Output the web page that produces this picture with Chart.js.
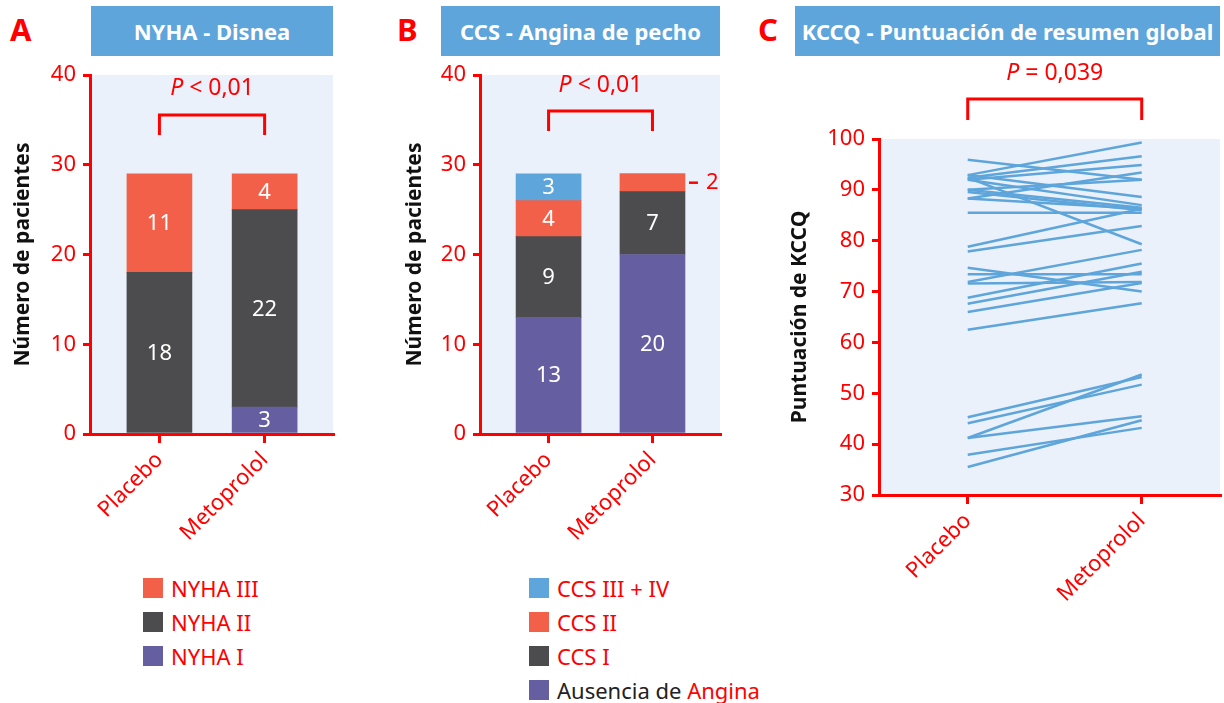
<!DOCTYPE html>
<html>
<head>
<meta charset="utf-8">
<script src="https://cdn.jsdelivr.net/npm/chart.js@4.4.0/dist/chart.umd.min.js"></script>
<style>
  body { margin: 0; width: 1224px; height: 703px; position: relative; background: #fff; overflow: hidden;
         font-family: "Noto Sans", sans-serif; }
  canvas { position: absolute; }
  .letter { position: absolute; top: 8px; color: #f00; font-weight: bold; font-size: 31px; }
  .box { position: absolute; top: 6px; height: 50px; background: #5DA5DA; color: #fff; font-weight: bold;
         font-size: 22px; display: flex; align-items: center; justify-content: center; white-space: nowrap; }
  .leg { position: absolute; top: 571px; font-size: 22px; color: #f00; }
  .leg div { height: 34px; display: flex; align-items: center; white-space: nowrap; }
  .sw { width: 20px; height: 20px; margin-right: 8px; display: inline-block; }
</style>
</head>
<body>
<div class="letter" style="left:10px">A</div>
<div class="box" style="left:91px;width:242px">NYHA - Disnea</div>
<div class="letter" style="left:397px">B</div>
<div class="box" style="left:441px;width:279px">CCS - Angina de pecho</div>
<div class="letter" style="left:758px">C</div>
<div class="box" style="left:795px;width:425px">KCCQ - Puntuación de resumen global</div>

<canvas id="chartA" width="345" height="560" style="left:0;top:0"></canvas>
<canvas id="chartB" width="330" height="560" style="left:400px;top:0"></canvas>
<canvas id="chartC" width="454" height="640" style="left:770px;top:0"></canvas>

<div class="leg" style="left:143px">
  <div><span class="sw" style="background:#F2604A"></span>NYHA III</div>
  <div><span class="sw" style="background:#4C4C4E"></span>NYHA II</div>
  <div><span class="sw" style="background:#655FA1"></span>NYHA I</div>
</div>
<div class="leg" style="left:529px">
  <div><span class="sw" style="background:#5DA5DA"></span>CCS III + IV</div>
  <div><span class="sw" style="background:#F2604A"></span>CCS II</div>
  <div><span class="sw" style="background:#4C4C4E"></span>CCS I</div>
  <div><span class="sw" style="background:#655FA1"></span><span style="color:#222">Ausencia de&nbsp;</span>Angina</div>
</div>

<script>
// Data
const groups = ["Placebo", "Metoprolol"];
const nyhaI = [0, 3];
const nyhaII = [18, 22];
const nyhaIII = [11, 4];
const sinAngina = [13, 20];
const ccsI = [9, 7];
const ccsII = [4, 2];
const ccsIIIIV = [3, 0];
// KCCQ per patient: placebo -> metoprolol
const kccqPlacebo = [92.9, 92.4, 95.9, 92.0, 90.0, 92.9, 92.4, 92.0, 90.0, 89.6, 88.3, 88.3, 85.5, 78.8, 77.9,
  74.7, 73.4, 71.9, 71.6, 68.8, 67.6, 66.0, 62.5, 45.3, 44.1, 41.2, 41.2, 37.9, 35.5];
const kccqMetoprolol = [99.3, 96.6, 92.0, 94.9, 92.0, 88.6, 79.3, 87.0, 86.5, 86.0, 93.4, 86.3, 85.5, 86.3, 82.9,
  70.0, 73.4, 78.2, 71.9, 75.5, 73.9, 71.7, 67.7, 53.2, 51.7, 53.7, 45.5, 43.2, 44.7];

const RED = "#f00";
const BG = "#EAF1FA";
const PURPLE = "#655FA1", DARK = "#4C4C4E", ORANGE = "#F2604A", BLUE = "#5DA5DA";

Chart.defaults.font.family = "'Noto Sans', sans-serif";

// light plot background
const plotBg = {
  id: "plotBg",
  beforeDraw(chart) {
    const { ctx, chartArea: a } = chart;
    ctx.save();
    ctx.fillStyle = BG;
    ctx.fillRect(a.left, a.top, a.right - a.left, a.bottom - a.top);
    ctx.restore();
  }
};

// numbers inside the bars
const barLabels = {
  id: "barLabels",
  afterDatasetsDraw(chart) {
    const ctx = chart.ctx;
    ctx.save();
    ctx.font = "22px 'Noto Sans'";
    ctx.textBaseline = "middle";
    chart.data.datasets.forEach((ds, di) => {
      chart.getDatasetMeta(di).data.forEach((bar, i) => {
        const v = ds.data[i].y;
        if (!v) return;
        const mid = (bar.y + bar.base) / 2;
        if (v < 3) {
          // too thin, put it outside with a dash
          const x0 = bar.x + bar.width / 2 + 4;
          ctx.strokeStyle = RED; ctx.lineWidth = 2.5;
          ctx.beginPath(); ctx.moveTo(x0, mid); ctx.lineTo(x0 + 9, mid); ctx.stroke();
          ctx.fillStyle = RED; ctx.textAlign = "left";
          ctx.fillText(v, x0 + 17, mid);
        } else {
          ctx.fillStyle = "#fff"; ctx.textAlign = "center";
          ctx.fillText(v, bar.x, mid + 1);
        }
      });
    });
    ctx.restore();
  }
};

// P value bracket
const bracket = {
  id: "bracket",
  afterDraw(chart, args, o) {
    const ctx = chart.ctx, sx = chart.scales.x;
    const x0 = sx.getPixelForValue(0), x1 = sx.getPixelForValue(1);
    ctx.save();
    ctx.strokeStyle = RED; ctx.lineWidth = 3;
    ctx.beginPath();
    ctx.moveTo(x0, o.y + o.leg); ctx.lineTo(x0, o.y); ctx.lineTo(x1, o.y); ctx.lineTo(x1, o.y + o.leg);
    ctx.stroke();
    ctx.fillStyle = RED; ctx.textBaseline = "middle"; ctx.textAlign = "left";
    ctx.font = "italic 23px 'Noto Sans'";
    const pw = ctx.measureText("P").width;
    ctx.font = "23px 'Noto Sans'";
    const rw = ctx.measureText(o.text).width;
    const start = (x0 + x1) / 2 - (pw + rw) / 2;
    ctx.font = "italic 23px 'Noto Sans'";
    ctx.fillText("P", start, o.ty);
    ctx.font = "23px 'Noto Sans'";
    ctx.fillText(o.text, start + pw, o.ty);
    ctx.restore();
  }
};

function xScale(min, max, height) {
  return {
    type: "linear", min: min, max: max, stacked: true, offset: false,
    afterBuildTicks: (s) => { s.ticks = groups.map((g, i) => ({ value: i })); },
    afterFit: (s) => { s.height = height; },
    ticks: { color: RED, font: { size: 22 }, minRotation: 45, maxRotation: 45, padding: 4,
             callback: (v) => groups[v] },
    grid: { drawOnChartArea: false, offset: false, color: RED, lineWidth: 3, tickLength: 9 },
    border: { color: RED, width: 3 }
  };
}

function yScale(min, max, width, title, titlePad) {
  return {
    min: min, max: max, stacked: true,
    afterFit: (s) => { s.width = width; },
    ticks: { stepSize: 10, color: RED, font: { size: 22 }, padding: 7 },
    grid: { drawOnChartArea: false, color: RED, lineWidth: 3, tickLength: 7 },
    border: { color: RED, width: 3 },
    title: { display: true, text: title, color: "#111", font: { size: 21, weight: "bold" },
             padding: { top: titlePad, bottom: 0 } }
  };
}

function barSet(label, values, color) {
  return { label: label, data: values.map((v, i) => ({ x: i, y: v })), backgroundColor: color,
           barThickness: 65, borderWidth: 0 };
}

// A - NYHA
new Chart(document.getElementById("chartA"), {
  type: "bar",
  data: { datasets: [barSet("NYHA I", nyhaI, PURPLE), barSet("NYHA II", nyhaII, DARK), barSet("NYHA III", nyhaIII, ORANGE)] },
  options: {
    responsive: false, animation: false,
    layout: { padding: { top: 75, right: 12, left: 0, bottom: 0 } },
    scales: { x: xScale(-0.66, 1.65, 126), y: yScale(0, 40, 90, "Número de pacientes", 10) },
    plugins: { legend: { display: false }, tooltip: { enabled: false },
               bracket: { text: " < 0,01", y: 115, leg: 20, ty: 88 } }
  },
  plugins: [plotBg, barLabels, bracket]
});

// B - CCS
new Chart(document.getElementById("chartB"), {
  type: "bar",
  data: { datasets: [barSet("Ausencia de Angina", sinAngina, PURPLE), barSet("CCS I", ccsI, DARK),
                     barSet("CCS II", ccsII, ORANGE), barSet("CCS III + IV", ccsIIIIV, BLUE)] },
  options: {
    responsive: false, animation: false,
    layout: { padding: { top: 75, right: 10, left: 0, bottom: 0 } },
    scales: { x: xScale(-0.66, 1.65, 126), y: yScale(0, 40, 80, "Número de pacientes", 2) },
    plugins: { legend: { display: false }, tooltip: { enabled: false },
               bracket: { text: " < 0,01", y: 111, leg: 20, ty: 85 } }
  },
  plugins: [plotBg, barLabels, bracket]
});

// C - KCCQ
new Chart(document.getElementById("chartC"), {
  type: "line",
  data: {
    datasets: kccqPlacebo.map((p, i) => ({
      data: [{ x: 0, y: p }, { x: 1, y: kccqMetoprolol[i] }],
      borderColor: BLUE, borderWidth: 2.5, pointRadius: 0, fill: false
    }))
  },
  options: {
    responsive: false, animation: false,
    layout: { padding: { top: 139, right: 4, left: 0, bottom: 0 } },
    scales: {
      x: Object.assign(xScale(-0.51, 1.45, 145), { stacked: false }),
      y: Object.assign(yScale(30, 100, 109, "Puntuación de KCCQ", 17), { stacked: false })
    },
    plugins: { legend: { display: false }, tooltip: { enabled: false },
               bracket: { text: " = 0,039", y: 99, leg: 21, ty: 73 } }
  },
  plugins: [plotBg, bracket]
});
</script>
</body>
</html>
